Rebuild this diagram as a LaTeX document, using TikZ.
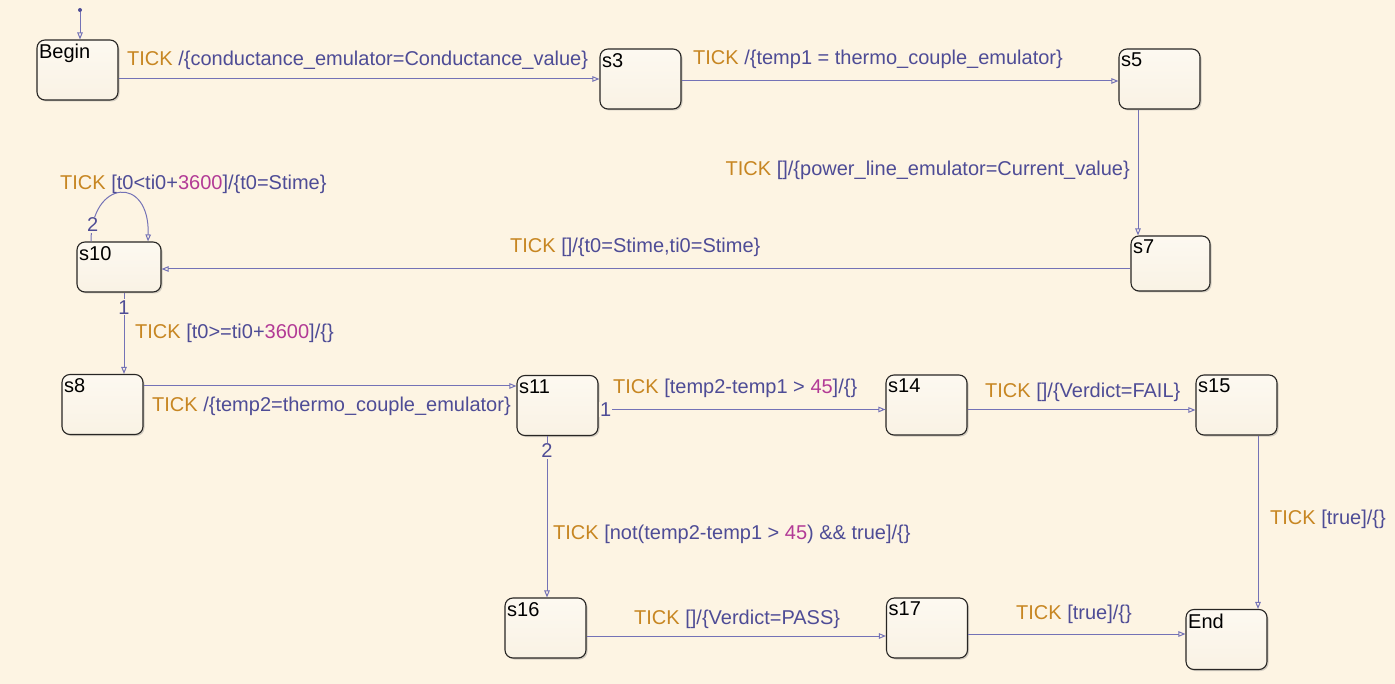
\documentclass[tikz,border=0pt]{standalone}
\usepackage{fontspec}
\setmainfont{Liberation Sans}
\usetikzlibrary{arrows.meta,shadows}
\definecolor{bgcol}{RGB}{253,244,227}
\definecolor{boxtop}{RGB}{253,249,241}
\definecolor{boxbot}{RGB}{249,242,228}
\definecolor{edgecol}{RGB}{40,38,36}
\definecolor{linecol}{RGB}{116,114,182}
\definecolor{tickcol}{RGB}{199,134,34}
\definecolor{actcol}{RGB}{78,76,150}
\definecolor{numcol}{RGB}{178,58,150}
\newcommand{\tickw}{\textcolor{tickcol}{TICK}}
\newcommand{\nm}[1]{\textcolor{numcol}{#1}}
\tikzstyle{state}=[rectangle,rounded corners=8pt,draw=edgecol,line width=1.1pt,minimum width=81pt,minimum height=60pt,top color=boxtop,bottom color=boxbot,drop shadow={shadow xshift=1.5pt,shadow yshift=-1.5pt,opacity=0.35}]
\tikzstyle{sname}=[anchor=north west,inner xsep=2.5pt,inner ysep=4.5pt,text=black,font=\fontsize{20}{24}\selectfont]
\tikzstyle{trans}=[draw=linecol,line width=1pt,-{Triangle[open,length=7pt,width=5.5pt]}]
\tikzstyle{lbl}=[inner sep=0pt,anchor=base west,text=actcol,font=\fontsize{20}{24}\selectfont]
\tikzstyle{ord}=[fill=bgcol,inner sep=1pt,text=actcol,font=\fontsize{20}{24}\selectfont]
\tikzstyle{dot}=[circle,fill=actcol,inner sep=0pt,minimum size=4pt]

\begin{document}
\begin{tikzpicture}[x=1pt,y=-1pt]
  \fill[bgcol] (0,0) rectangle (1395,684);
  \useasboundingbox (0,0) rectangle (1395,684);

  % states
  \node[state,label={[sname]north west:Begin}] (beg) at (77.5,70) {};
  \node[state,label={[sname]north west:s3}] (s3) at (640.5,79) {};
  \node[state,label={[sname]north west:s5}] (s5) at (1159.5,79) {};
  \node[state,minimum width=79pt,minimum height=55pt,label={[sname]north west:s7}] (s7) at (1170.5,263.5) {};
  \node[state,minimum width=84pt,minimum height=50pt,label={[sname]north west:s10}] (s10) at (119,267) {};
  \node[state,label={[sname]north west:s8}] (s8) at (102.5,404.5) {};
  \node[state,label={[sname]north west:s11}] (s11) at (557.5,405.5) {};
  \node[state,label={[sname]north west:s14}] (s14) at (926.5,405) {};
  \node[state,label={[sname]north west:s15}] (s15) at (1236.5,405) {};
  \node[state,label={[sname]north west:s16}] (s16) at (545.5,628) {};
  \node[state,label={[sname]north west:s17}] (s17) at (927,628) {};
  \node[state,label={[sname]north west:End}] (fin) at (1226.5,639.5) {};

  % default transition
  \node[dot] (init) at (80,10) {};
  \draw[trans] (init) -- (init |- beg.north);

  % transitions
  \draw[trans] (beg.east |- s3.west) -- (s3.west);
  \draw[trans] ([yshift=-2pt]s3.east) -- ([yshift=-2pt]s5.west);
  \coordinate (o5) at ([xshift=-21.5pt]s5.south);
  \draw[trans] (o5) -- (o5 |- s7.north);
  \coordinate (o7) at ([yshift=-5.5pt]s7.west);
  \draw[trans] (o7) -- (o7 -| s10.east);
  \draw[trans] ([xshift=-28pt]s10.north) .. controls +(0,-62) and +(2,-67) .. ([xshift=29pt]s10.north) node[ord,pos=0.1] {2};
  \coordinate (o10) at ([xshift=5pt]s10.south);
  \draw[trans] (o10) -- (o10 |- s8.north) node[ord,pos=0.18] {1};
  \coordinate (o8) at ([yshift=18.5pt]s8.east);
  \draw[trans] (o8) -- (o8 -| s11.west);
  \coordinate (o11) at ([yshift=-4pt]s11.east);
  \draw[trans] (o11) -- (o11 -| s14.west) node[ord,pos=0,anchor=west] {1};
  \coordinate (o14) at ([yshift=-5pt]s14.east);
  \draw[trans] (o14) -- (o14 -| s15.west);
  \coordinate (o11b) at ([xshift=-10.5pt]s11.south);
  \draw[trans] (o11b) -- (o11b |- s16.north) node[ord,pos=0.09] {2};
  \coordinate (o15) at ([xshift=21.5pt]s15.south);
  \draw[trans] (o15) -- (o15 |- fin.north);
  \coordinate (o16) at ([yshift=-8pt]s16.east);
  \draw[trans] (o16) -- (o16 -| s17.west);
  \coordinate (o17) at ([yshift=-6pt]s17.east);
  \draw[trans] (o17) -- (o17 -| fin.west);

  % labels
  \node[lbl] (l1) at (127,66) {\tickw{} /\{conductance\_emulator=Conductance\_value\}};
  \node[lbl] (l2) at (693,65) {\tickw{} /\{temp1 = thermo\_couple\_emulator\}};
  \node[lbl,anchor=base east] (l3) at (1130,176) {\tickw{} []/\{power\_line\_emulator=Current\_value\}};
  \node[lbl] (l4) at (510,253) {\tickw{} []/\{t0=Stime,ti0=Stime\}};
  \node[lbl] (l5) at (60,190) {\tickw{} [t0<ti0+\nm{3600}]/\{t0=Stime\}};
  \node[lbl] (l6) at (135,339) {\tickw{} [t0>=ti0+\nm{3600}]/\{\}};
  \node[lbl] (l7) at (152,412) {\tickw{} /\{temp2=thermo\_couple\_emulator\}};
  \node[lbl] (l8) at (613,394) {\tickw{} [temp2-temp1 > \nm{45}]/\{\}};
  \node[lbl] (l9) at (985,398) {\tickw{} []/\{Verdict=FAIL\}};
  \node[lbl] (l10) at (553,539) {\tickw{} [not(temp2-temp1 > \nm{45}) \&\& true]/\{\}};
  \node[lbl] (l11) at (1270,524) {\tickw{} [true]/\{\}};
  \node[lbl] (l12) at (634,624) {\tickw{} []/\{Verdict=PASS\}};
  \node[lbl] (l13) at (1016,619) {\tickw{} [true]/\{\}};
\end{tikzpicture}
\end{document}
